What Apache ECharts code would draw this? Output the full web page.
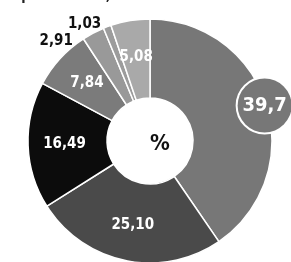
<!DOCTYPE html>
<html>
  <head>
    <meta charset="UTF-8" />
    <title>Flächenanteile</title>
    <style>
      html, body { margin: 0; padding: 0; background: #fff; }
      #chart { width: 291px; height: 262px; }
    </style>
    <script src="https://cdn.jsdelivr.net/npm/echarts@6/dist/echarts.min.js"></script>
  </head>
  <body>
    <div id="chart"></div>
    <script>
      // Anteile in %, im Uhrzeigersinn ab 12 Uhr
      const shares = [39.7, 25.10, 16.49, 7.84, 2.91, 1.03, 5.08];
      const shareLabels = ["39,7", "25,10", "16,49", "7,84", "2,91", "1,03", "5,08"];
      const shareColors = ["#777777", "#4a4a4a", "#0c0c0c", "#7b7b7b", "#999999", "#9c9c9c", "#a9a9a9"];

      const font = "'Liberation Sans Narrow', 'DejaVu Sans Condensed', sans-serif";
      const chart = echarts.init(document.getElementById("chart"));

      const pieData = shares.map((v, i) => {
        const outside = v < 4;
        return {
          value: v,
          name: shareLabels[i],
          itemStyle: { color: shareColors[i] },
          label: {
            show: i !== 0,
            position: outside ? "outside" : "inside",
            color: outside ? "#111" : "#fff",
          },
        };
      });

      // unsichtbarer Ring, nur für den Kreis mit 39,7
      const badgeData = shares.map((v, i) => ({
        value: v,
        name: shareLabels[i],
        label: { show: i === 0 },
      }));

      chart.setOption({
        animation: false,
        graphic: [
          {
            type: "text",
            left: -10,
            top: -11,
            style: { text: "Komposition: 83,13 ha*", font: "bold 14px " + font, fill: "#222" },
          },
          {
            type: "text",
            left: 178,
            top: -11,
            style: { text: "Überblick in % ?", font: "bold 14px " + font, fill: "#999" },
          },
          {
            type: "text",
            left: 150,
            top: 133,
            style: { text: "%", font: "bold 22px " + font, fill: "#111", textAlign: "center" },
          },
        ],
        series: [
          {
            type: "pie",
            center: [150, 141],
            radius: [43, 122],
            startAngle: 90,
            silent: true,
            itemStyle: { borderColor: "#fff", borderWidth: 1.5 },
            label: {
              fontFamily: font,
              fontWeight: "bold",
              fontSize: 15,
              formatter: "{b}",
            },
            labelLine: { show: false, length: 3, length2: 0 },
            data: pieData,
          },
          {
            type: "pie",
            center: [150, 141],
            radius: [100, 134],
            startAngle: 90,
            silent: true,
            itemStyle: { color: "rgba(0,0,0,0)" },
            label: {
              position: "inside",
              formatter: "{b}",
              color: "#fff",
              fontFamily: font,
              fontWeight: "bold",
              fontSize: 20,
              backgroundColor: "#777777",
              borderColor: "#fff",
              borderWidth: 2,
              borderRadius: 28,
              width: 54,
              height: 54,
              lineHeight: 54,
              align: "center",
            },
            labelLine: { show: false },
            data: badgeData,
          },
        ],
      });
    </script>
  </body>
</html>
